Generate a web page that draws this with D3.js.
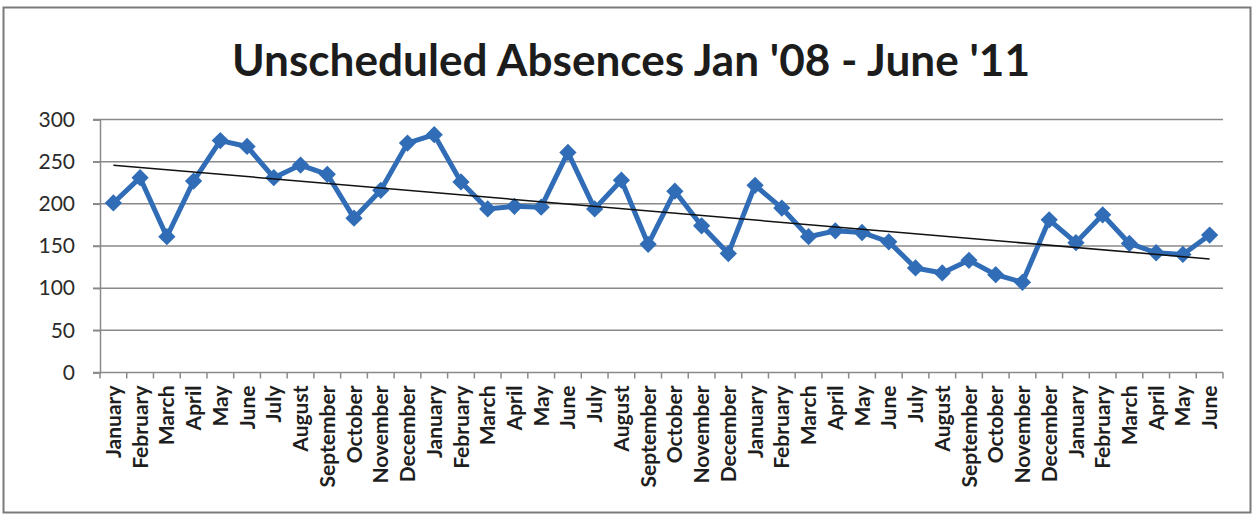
<!DOCTYPE html>
<html>
<head>
<meta charset="utf-8">
<script src="https://cdn.jsdelivr.net/npm/d3@7"></script>
<style>
  html, body { margin: 0; padding: 0; background: #fff; }
  svg { display: block; }
</style>
</head>
<body>
<svg id="chart" width="1254" height="517"></svg>
<script>
// Monthly unscheduled absences, January 2008 through June 2011
const months = [
  "January","February","March","April","May","June","July","August","September","October","November","December",
  "January","February","March","April","May","June","July","August","September","October","November","December",
  "January","February","March","April","May","June","July","August","September","October","November","December",
  "January","February","March","April","May","June"
];
const absences = [
  201, 231, 161, 227, 275, 268, 231, 246, 235, 183, 216, 272,
  282, 226, 194, 197, 196, 261, 194, 228, 152, 215, 174, 141,
  222, 195, 161, 168, 166, 155, 124, 118, 133, 116, 107, 181,
  154, 187, 153, 142, 140, 163
];
const yTicks = [0, 50, 100, 150, 200, 250, 300];
const title = "Unscheduled Absences Jan '08 - June '11";

const svg = d3.select("#chart");
const plot = { left: 100, right: 1223, top: 119.5, bottom: 372.5 };
const font = "Lato, 'Open Sans', sans-serif";
const gridColor = "#8a8a8a";
const seriesColor = "#306db6";

// outer chart frame
svg.append("rect")
  .attr("x", 3.5).attr("y", 7.5)
  .attr("width", 1247).attr("height", 505)
  .attr("fill", "#fff")
  .attr("stroke", "#7a7a7a").attr("stroke-width", 2);

const idx = d3.range(months.length);
const x = d3.scaleBand().domain(idx).range([plot.left, plot.right]);
const cx = i => x(i) + x.bandwidth() / 2;
const y = d3.scaleLinear().domain([0, 300]).range([plot.bottom, plot.top]);

// horizontal gridlines
svg.append("g")
  .selectAll("line")
  .data(yTicks.filter(t => t > 0))
  .join("line")
  .attr("x1", plot.left - 7).attr("x2", plot.right)
  .attr("y1", d => y(d)).attr("y2", d => y(d))
  .attr("stroke", gridColor).attr("stroke-width", 1.5);

// y axis
const yAxis = svg.append("g")
  .attr("transform", `translate(${plot.left},0)`)
  .call(d3.axisLeft(y).tickValues(yTicks).tickSize(7).tickPadding(18));
yAxis.select(".domain").attr("stroke", gridColor).attr("stroke-width", 1.5);
yAxis.selectAll(".tick line").attr("stroke", gridColor).attr("stroke-width", 1.5);
yAxis.selectAll("text")
  .attr("font-family", font).attr("font-size", 21)
  .attr("fill", "#2b2b2b");

// x axis: tick marks at category boundaries
const xg = svg.append("g").attr("transform", `translate(0,${plot.bottom})`);
xg.append("line")
  .attr("x1", plot.left - 7).attr("x2", plot.right)
  .attr("stroke", gridColor).attr("stroke-width", 1.5);
xg.selectAll("line.tick")
  .data(d3.range(months.length + 1))
  .join("line")
  .attr("class", "tick")
  .attr("x1", i => plot.left + i * x.step()).attr("x2", i => plot.left + i * x.step())
  .attr("y1", 0).attr("y2", 6)
  .attr("stroke", gridColor).attr("stroke-width", 1.5);
xg.selectAll("text")
  .data(idx)
  .join("text")
  .attr("transform", i => `translate(${cx(i)},13) rotate(-90)`)
  .attr("text-anchor", "end")
  .attr("dy", "0.36em")
  .attr("font-family", font).attr("font-weight", 700).attr("font-size", 21)
  .attr("fill", "#1e1e1e")
  .text(i => months[i]);

// linear trendline (least squares)
const n = absences.length;
const mx = d3.mean(idx), my = d3.mean(absences);
const slope = d3.sum(idx, i => (i - mx) * (absences[i] - my)) / d3.sum(idx, i => (i - mx) ** 2);
const icpt = my - slope * mx;

// data series
const line = d3.line().x((d, i) => cx(i)).y(d => y(d));
svg.append("path")
  .datum(absences)
  .attr("d", line)
  .attr("fill", "none")
  .attr("stroke", seriesColor).attr("stroke-width", 5)
  .attr("stroke-linejoin", "round");

svg.append("g")
  .selectAll("path")
  .data(absences)
  .join("path")
  .attr("d", d3.symbol(d3.symbolDiamond2, 190))
  .attr("transform", (d, i) => `translate(${cx(i)},${y(d)})`)
  .attr("fill", seriesColor);

svg.append("line")
  .attr("x1", cx(0)).attr("y1", y(icpt))
  .attr("x2", cx(n - 1)).attr("y2", y(icpt + slope * (n - 1)))
  .attr("stroke", "#111").attr("stroke-width", 1.5);

// title
svg.append("text")
  .attr("x", 631).attr("y", 76)
  .attr("text-anchor", "middle")
  .attr("font-family", font).attr("font-weight", 700).attr("font-size", 44)
  .attr("fill", "#1c1c1c")
  .attr("textLength", 798).attr("lengthAdjust", "spacingAndGlyphs")
  .text(title);
</script>
</body>
</html>
